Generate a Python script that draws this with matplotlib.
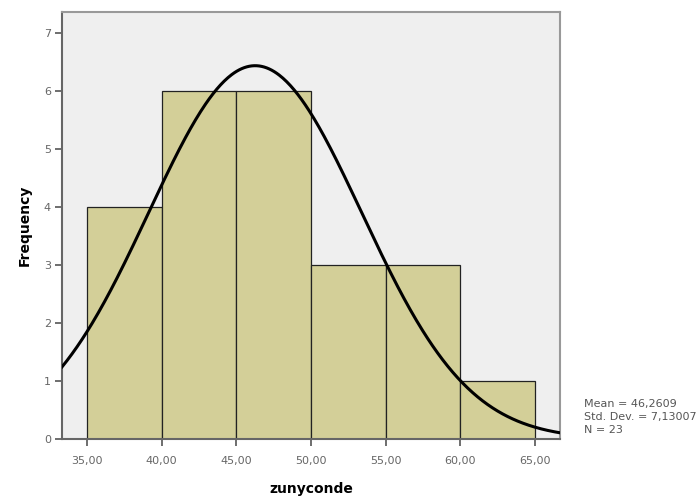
import numpy as np
import matplotlib
matplotlib.use("Agg")
import matplotlib.pyplot as plt

plt.rcParams['font.family'] = ['DejaVu Sans']

bin_edges = [35, 40, 45, 50, 55, 60, 65]
counts = [4, 6, 6, 3, 3, 1]
mean = 46.2609
std = 7.13007
n = 23
xticks = [35, 40, 45, 50, 55, 60, 65]
xtick_labels = ["35,00", "40,00", "45,00", "50,00", "55,00", "60,00", "65,00"]
yticks = [0, 1, 2, 3, 4, 5, 6, 7]

fig = plt.figure(figsize=(6.99, 4.96), dpi=100)
ax = fig.add_axes([62/699, 1-439/496, (560-62)/699, (439-12)/496])
ax.set_facecolor('#efefef')

widths = np.diff(bin_edges)
ax.bar(bin_edges[:-1], counts, width=widths, align='edge',
       color='#d3cf98', edgecolor='#222222', linewidth=0.9, zorder=2)

xlim = (33.33, 66.67)
xs = np.linspace(xlim[0], xlim[1], 400)
bw = bin_edges[1] - bin_edges[0]
ys = n * bw / (std * np.sqrt(2 * np.pi)) * np.exp(-0.5 * ((xs - mean) / std) ** 2)
ax.plot(xs, ys, color='black', linewidth=2.2, zorder=3)

ax.set_xlim(*xlim)
ax.set_ylim(0, 7.36)
ax.set_xticks(xticks)
ax.set_xticklabels(xtick_labels)
ax.set_yticks(yticks)
ax.tick_params(axis='both', direction='out', length=5, width=1.2, color='#555555',
               labelsize=8, labelcolor='#666666', pad=3)
ax.tick_params(axis='x', pad=7)

for s in ['top', 'right']:
    ax.spines[s].set_color('#999999')
    ax.spines[s].set_linewidth(1.5)
for s in ['left', 'bottom']:
    ax.spines[s].set_color('#666666')
    ax.spines[s].set_linewidth(1.5)

ax.set_ylabel('Frequency', fontsize=10, fontweight='bold', labelpad=9)
ax.set_xlabel('zunyconde', fontsize=10, fontweight='bold', labelpad=12)

fig.text(584/699, 1-399/496, "Mean = 46,2609\nStd. Dev. = 7,13007\nN = 23",
         fontsize=8, color='#555555', va='top', ha='left', linespacing=1.4)

fig.savefig('out.png', dpi=100)
